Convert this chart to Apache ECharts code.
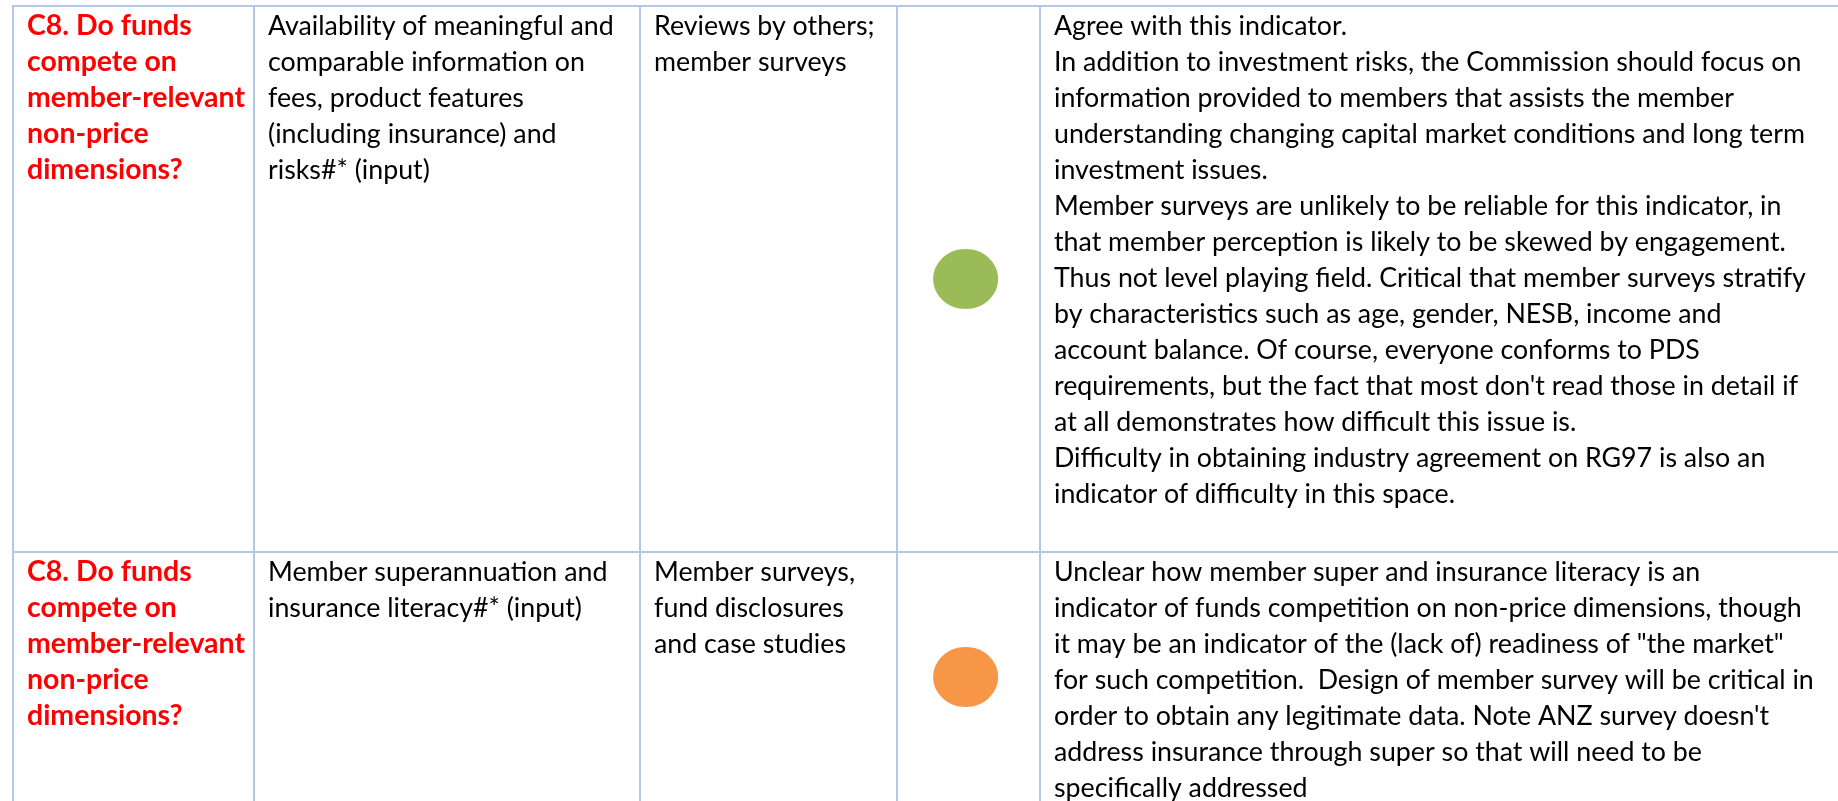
<!DOCTYPE html>
<html>
<head>
<meta charset="utf-8">
<script src="https://cdn.jsdelivr.net/npm/echarts@6/dist/echarts.min.js"></script>
<style>
html, body { margin: 0; padding: 0; background: #ffffff; }
#chart { width: 1838px; height: 801px; }
</style>
</head>
<body>
<div id="chart"></div>
<script>
// ---- Data ----
const questions = [
  "C8. Do funds\ncompete on\nmember-relevant\nnon-price\ndimensions?",
  "C8. Do funds\ncompete on\nmember-relevant\nnon-price\ndimensions?"
];
const indicators = [
  "Availability of meaningful and\ncomparable information on\nfees, product features\n(including insurance) and\nrisks#* (input)",
  "Member superannuation and\ninsurance literacy#* (input)"
];
const sources = [
  "Reviews by others;\nmember surveys",
  "Member surveys,\nfund disclosures\nand case studies"
];
const ratings = ["green", "amber"];
const comments = [
  "Agree with this indicator.\nIn addition to investment risks, the Commission should focus on\ninformation provided to members that assists the member\nunderstanding changing capital market conditions and long term\ninvestment issues.\nMember surveys are unlikely to be reliable for this indicator, in\nthat member perception is likely to be skewed by engagement.\nThus not level playing field. Critical that member surveys stratify\nby characteristics such as age, gender, NESB, income and\naccount balance. Of course, everyone conforms to PDS\nrequirements, but the fact that most don't read those in detail if\nat all demonstrates how difficult this issue is.\nDifficulty in obtaining industry agreement on RG97 is also an\nindicator of difficulty in this space.",
  "Unclear how member super and insurance literacy is an\nindicator of funds competition on non-price dimensions, though\nit may be an indicator of the (lack of) readiness of \"the market\"\nfor such competition.  Design of member survey will be critical in\norder to obtain any legitimate data. Note ANZ survey doesn't\naddress insurance through super so that will need to be\nspecifically addressed"
];

// ---- Layout / style (not data) ----
const FONT = "Lato";
const GRID_LEFT = 13, GRID_TOP = 6;
const VIEW_W = 1838 - GRID_LEFT, VIEW_H = 801 - GRID_TOP;   // visible part of the table
const COL_EDGES = [0, 241, 627, 884, 1027, 1845];           // last edge runs past the right edge
const ROW_EDGES = [0, 546, 796];
const PAD_X = 14, FIRST_LINE = 20, LINE_H = 36;
const DOT_FRAC = 0.48, DOT_RX = 32.5, DOT_RY = 30;
const RATING_COLORS = { green: "#9BBB59", amber: "#F79646" };
const BORDER = "#B4C7E7";

function fitSize(text, target, weight) {
  const ctx = document.createElement("canvas").getContext("2d");
  ctx.font = weight + " 100px " + FONT;
  return 100 * target / ctx.measureText(text).width;
}
const fsBody = fitSize("understanding changing capital market conditions and long term", 751, "normal");
const fsBold = fitSize("member-relevant", 218, "bold");

// Build cell list from the arrays
const cells = [];
for (let r = 0; r < questions.length; r++) {
  cells.push([0, r, questions[r], "q"]);
  cells.push([1, r, indicators[r], "t"]);
  cells.push([2, r, sources[r], "t"]);
  cells.push([3, r, ratings[r], "dot"]);
  cells.push([4, r, comments[r], "t"]);
}

function renderCell(params, api) {
  const d = cells[params.dataIndex];
  const c = d[0], r = d[1];
  const p0 = api.coord([COL_EDGES[c], ROW_EDGES[r]]);
  const p1 = api.coord([COL_EDGES[c + 1], ROW_EDGES[r + 1]]);
  const children = [{
    type: "rect",
    shape: { x: p0[0], y: p0[1], width: p1[0] - p0[0], height: p1[1] - p0[1] },
    style: { fill: null, stroke: BORDER, lineWidth: 2 },
    silent: true
  }];
  if (d[3] === "dot") {
    children.push({
      type: "ellipse",
      shape: {
        cx: p0[0] + (p1[0] - p0[0]) * DOT_FRAC,
        cy: (p0[1] + p1[1]) / 2,
        rx: DOT_RX, ry: DOT_RY
      },
      style: { fill: RATING_COLORS[d[2]] }
    });
  } else {
    const bold = d[3] === "q";
    children.push({
      type: "text",
      x: p0[0] + PAD_X,
      y: p0[1] + FIRST_LINE - LINE_H / 2,
      style: {
        text: d[2],
        fill: bold ? "#FF0000" : "#000000",
        font: (bold ? "bold " : "") + (bold ? fsBold : fsBody).toFixed(2) + "px " + FONT,
        lineHeight: LINE_H,
        align: "left",
        verticalAlign: "top"
      }
    });
  }
  return { type: "group", children: children };
}

const chart = echarts.init(document.getElementById("chart"), null, { renderer: "canvas" });
chart.setOption({
  animation: false,
  backgroundColor: "#ffffff",
  grid: { left: GRID_LEFT, top: GRID_TOP, right: 0, bottom: 0, containLabel: false },
  xAxis: { type: "value", min: 0, max: VIEW_W, show: false },
  yAxis: { type: "value", min: 0, max: VIEW_H, inverse: true, show: false },
  series: [{
    type: "custom",
    coordinateSystem: "cartesian2d",
    data: cells.map(d => [d[0], d[1]]),
    renderItem: renderCell,
    clip: false
  }]
});
</script>
</body>
</html>
